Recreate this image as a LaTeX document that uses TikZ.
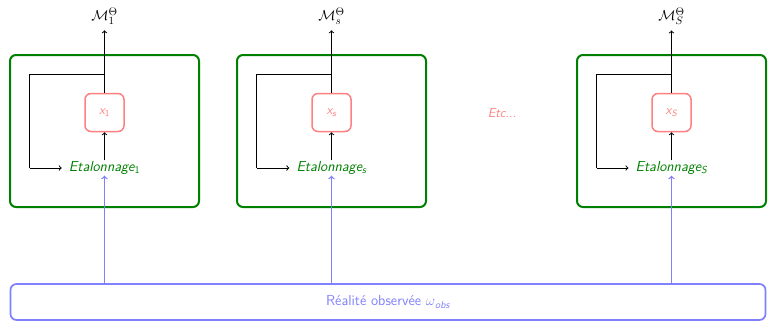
\documentclass[tikz,border=0pt]{standalone}
\definecolor{bgreen}{RGB}{0,128,0}
\definecolor{lred}{RGB}{255,128,128}
\definecolor{lblue}{RGB}{128,128,255}
\begin{document}
\begin{tikzpicture}[x=1pt,y=-1pt,
  font=\sffamily\fontsize{14}{17}\selectfont,
  frame/.style={draw=bgreen, line width=2pt, rounded corners=6pt, minimum width=189pt, minimum height=152pt, inner sep=0pt},
  statebox/.style={draw=lred, line width=1.5pt, rounded corners=6pt, minimum width=39pt, minimum height=38pt, inner sep=0pt, text=lred, font=\sffamily\fontsize{13}{15}\selectfont},
  etal/.style={text=bgreen, inner sep=1pt, font=\sffamily\itshape\fontsize{14.5}{17}\selectfont},
  arr/.style={->, line width=1pt, >=to},
  barr/.style={->, draw=lblue, line width=1.3pt, >=to},
  obsbox/.style={draw=lblue, line width=1.7pt, rounded corners=6pt, minimum width=755pt, minimum height=36pt, text=lblue, font=\sffamily\fontsize{14.5}{17}\selectfont},
  mlabel/.style={inner sep=1pt, font=\fontsize{15}{18}\selectfont}]
\useasboundingbox (0,0) rectangle (777,325);
\node[obsbox] (obs) at (388,302) {Réalité observée $\omega$\textsubscript{\itshape obs}};
\foreach \i/\cx/\s/\sm in {1/104.5/\upshape 1/1, 2/331.5/s/s, 3/671.5/S/S}{
  \node[frame] (f\i) at (\cx,131) {};
  \node[statebox] (x\i) at (\cx,112.5) {{\itshape x}\textsubscript{\itshape\s}};
  \node[etal] (e\i) at (\cx,168) {Etalonnage\textsubscript{\s}};
  \node[mlabel] (m\i) at (\cx,16) {$\mathcal{M}^{\Theta}_{\sm}$};
  \coordinate (j\i) at (\cx,74);
  \coordinate (c\i) at (\cx-75,74);
  \coordinate (d\i) at (\cx-75,168);
  \draw[arr, shorten >=5pt] (x\i.north) -- (m\i.south);
  \draw[arr] (e\i.north) -- (x\i.south);
  \draw[line width=1pt] (j\i) -- (c\i) -- (d\i);
  \draw[arr] (d\i) -- ([xshift=-6pt]e\i.west);
  \draw[barr] (obs.north -| e\i) -- (e\i.south);
}
\node[text=lred, font=\sffamily\itshape\fontsize{13}{15}\selectfont] (etc) at (502,113) {Etc...};
\end{tikzpicture}
\end{document}
